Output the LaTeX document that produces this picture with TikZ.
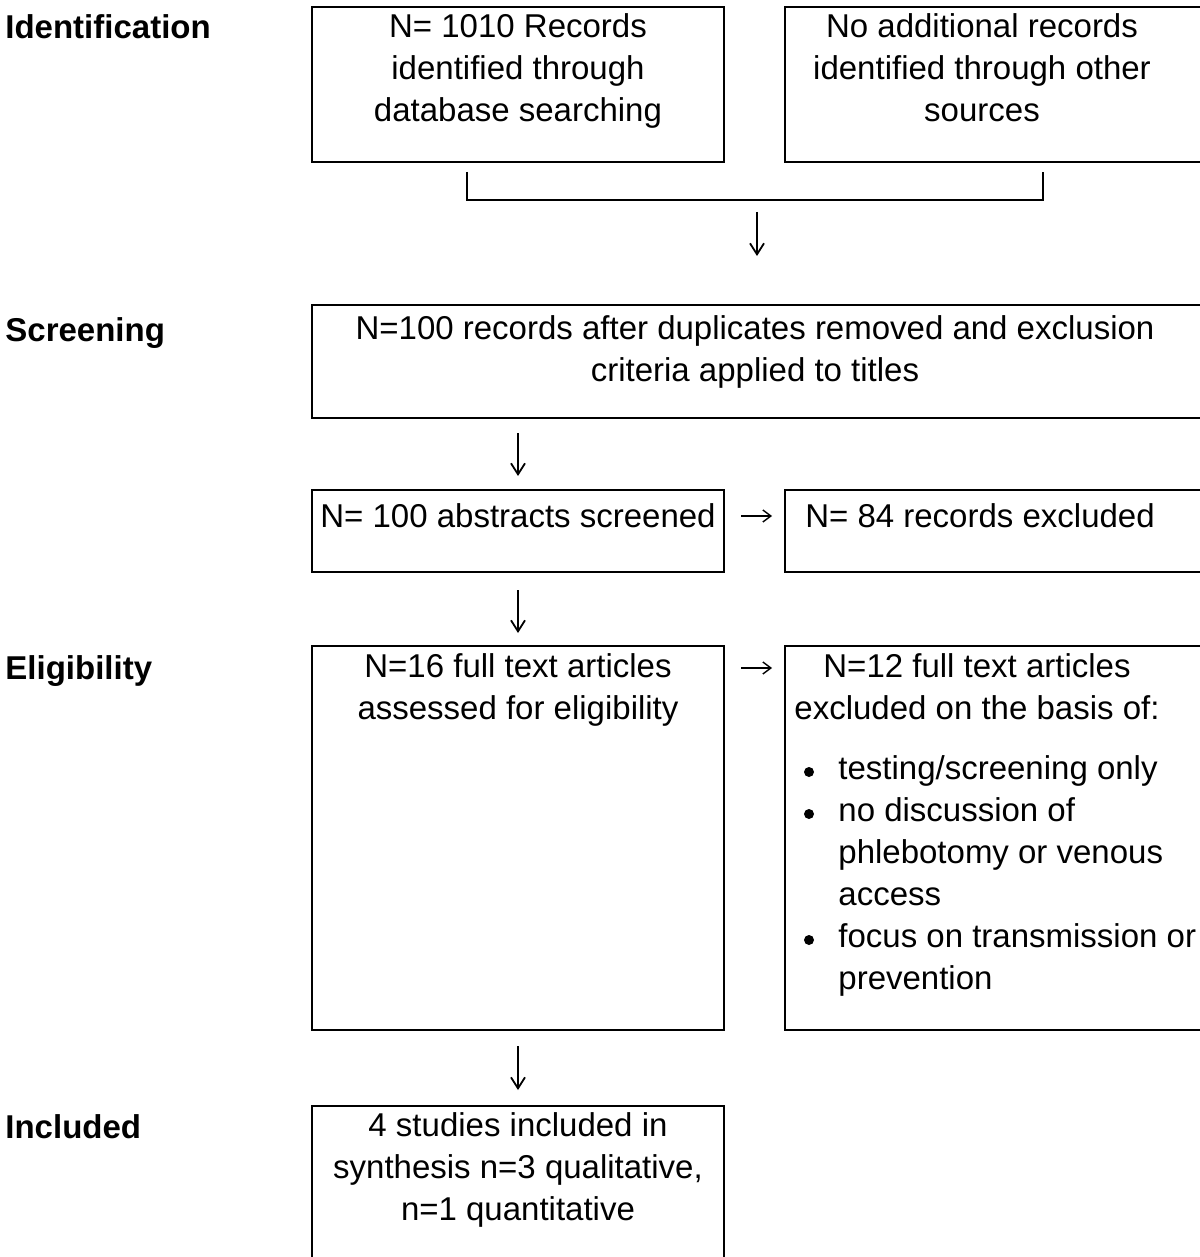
\documentclass[tikz,border=0pt]{standalone}
\usepackage{fontspec}
\setmainfont{Liberation Sans}
\usetikzlibrary{arrows.meta}
\begin{document}
\begin{tikzpicture}[x=0.5pt,y=-0.5pt,
  box/.style={draw, line width=1pt, anchor=north west, inner sep=0pt, outer sep=0pt},
  txt/.style={anchor=north, yshift=12.7pt, align=center, inner sep=0pt,
    font=\fontsize{16.5}{21}\selectfont, execute at begin node=\strut},
  ltxt/.style={anchor=north west, yshift=12.7pt, align=left, inner sep=0pt,
    font=\fontsize{16.5}{21}\selectfont, execute at begin node=\strut},
  lab/.style={anchor=base west, inner sep=0pt, font=\fontsize{16.5}{21}\selectfont\bfseries},
  bul/.style={circle, fill, inner sep=0pt, minimum size=5pt},
  bracket/.style={line width=0.6pt},
  darr/.style={line width=0.9pt, -{Straight Barb[length=5.5pt,width=7pt,line width=0.9pt]}},
  harr/.style={line width=0.7pt, -{Straight Barb[length=4pt,width=6pt,line width=0.7pt]}},
]
\useasboundingbox (0,0) rectangle (1199,1257);

% ---- stage labels
\node[lab] (lid) at (5,39) {Identification};
\node[lab] (lsc) at (5,341) {Screening};
\node[lab] (lel) at (5,679) {Eligibility};
\node[lab] (lin) at (5,1138) {Included};

% ---- boxes
\node[box, minimum width=206pt, minimum height=77.5pt] (b1) at (312,7) {};
\node[box, minimum width=215pt, minimum height=77.5pt] (b2) at (785,7) {};
\node[box, minimum width=449pt, minimum height=56.5pt] (scr) at (312,305) {};
\node[box, minimum width=206pt, minimum height=41pt] (abs) at (312,490) {};
\node[box, minimum width=215pt, minimum height=41pt] (exc) at (785,490) {};
\node[box, minimum width=206pt, minimum height=192pt] (elg) at (312,646) {};
\node[box, minimum width=215pt, minimum height=192pt] (exf) at (785,646) {};
\node[box, minimum width=206pt, minimum height=80pt] (inc) at (312,1106) {};

% ---- box texts
\node[txt] (t1) at (518,39) {N= 1010 Records\\identified through\\database searching};
\node[txt] (t2) at (982,39) {No additional records\\identified through other\\sources};
\node[txt] (tsc) at (755,341) {N=100 records after duplicates removed and exclusion\\criteria applied to titles};
\node[txt] (tab) at (518,523) {N= 100 abstracts screened};
\node[txt] (tex) at (980,523) {N= 84 records excluded};
\node[txt] (tel) at (518,679) {N=16 full text articles\\assessed for eligibility};
\node[txt] (tef) at (977,679) {N=12 full text articles\\excluded on the basis of:};
\node[ltxt] (li1) at (838,781) {testing/screening only\\no discussion of\\phlebotomy or venous\\access\\focus on transmission or\\prevention};
\node[bul] (bu1) at (809,772) {};
\node[bul] (bu2) at (809,814) {};
\node[bul] (bu3) at (809,940) {};
\node[txt] (tin) at (518,1138) {4 studies included in\\synthesis n=3 qualitative,\\n=1 quantitative};

% ---- merge bracket and arrows
\coordinate (bl) at (467,172);
\coordinate (br) at (1043,172);
\coordinate (bm) at (757,200);
\draw[bracket] (bl) -- (bl |- bm) -- (br |- bm) -- (br);
\draw[darr, shorten <=6pt, shorten >=24.5pt] (bm) -- (bm |- scr.north);

\draw[darr, shorten <=7.5pt, shorten >=7pt] (abs.north |- scr.south) -- (abs.north);
\draw[darr, shorten <=9pt, shorten >=6.5pt] (abs.south) -- (elg.north);
\draw[darr, shorten <=8pt, shorten >=8pt] (elg.south) -- (inc.north);

\draw[harr, shorten <=8.5pt, shorten >=6.5pt] ([yshift=-13pt]abs.north east) -- ([yshift=-13pt]exc.north west);
\draw[harr, shorten <=8.5pt, shorten >=6.5pt] ([yshift=-11pt]elg.north east) -- ([yshift=-11pt]exf.north west);
\end{tikzpicture}
\end{document}
